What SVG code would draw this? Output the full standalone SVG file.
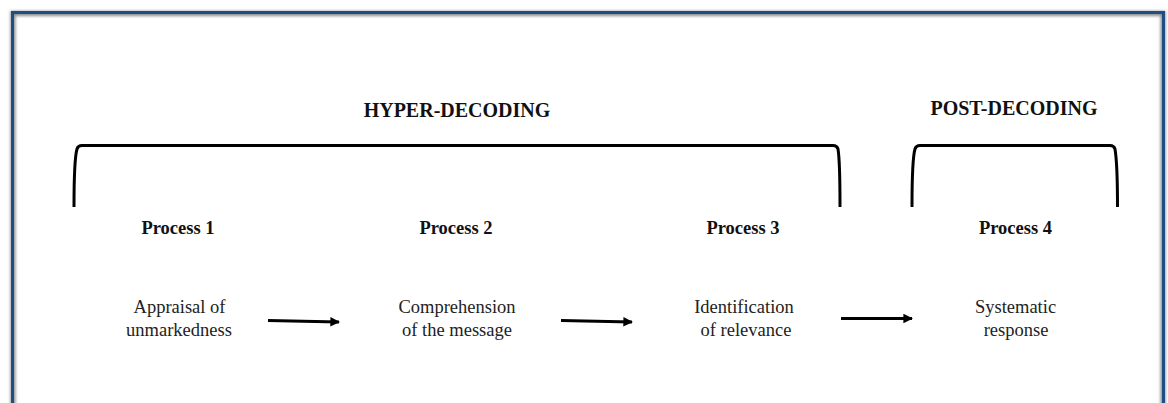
<svg xmlns="http://www.w3.org/2000/svg" width="1168" height="403" viewBox="0 0 1168 403">
  <defs>
    <filter id="soft" x="-5%" y="-5%" width="110%" height="110%">
      <feGaussianBlur stdDeviation="1.6"/>
    </filter>
    <marker id="head" viewBox="0 0 10 10" refX="9" refY="5" markerWidth="3.2" markerHeight="3.2" orient="auto" markerUnits="strokeWidth">
      <path d="M0,0 L10,5 L0,10 Z" fill="#000"/>
    </marker>
    <style>
      .heading { font-family: "Liberation Serif", "Times New Roman", serif; font-weight: bold; font-size: 20px; fill: #111; text-anchor: middle; }
      .title { font-family: "Liberation Serif", "Times New Roman", serif; font-weight: bold; font-size: 18.5px; fill: #111; text-anchor: middle; }
      .body { font-family: "Liberation Serif", "Times New Roman", serif; font-size: 18.5px; fill: #222; text-anchor: middle; }
      .bracket { fill: none; stroke: #000; stroke-width: 3; stroke-linecap: butt; stroke-linejoin: round; }
      .arrow { fill: none; stroke: #000; stroke-width: 3; marker-end: url(#head); }
    </style>
  </defs>

  <rect width="1168" height="403" fill="#fff"/>

  <!-- frame with soft shadow -->
  <g id="frame">
    <rect x="13" y="13.5" width="1150" height="420" fill="none" stroke="#8c8c8c" stroke-width="5" filter="url(#soft)"/>
    <rect x="12.5" y="12.5" width="1151" height="420" fill="none" stroke="#1f4e84" stroke-width="3"/>
  </g>

  <!-- phase headings and braces -->
  <g id="hyper-decoding">
    <text class="heading" x="457" y="117">HYPER-DECODING</text>
    <path class="bracket" d="M74,207 C74,178 75,156 77,149 Q78,145.5 82,145.5 L833,145.5 Q837,145.5 838,149 C839.5,158 840,180 840,207"/>
  </g>
  <g id="post-decoding">
    <text class="heading" x="1014" y="115">POST-DECODING</text>
    <path class="bracket" d="M912,207 C912,178 913,156 915,149 Q916,145.5 920,145.5 L1110,145.5 Q1114,145.5 1115,149 C1116.5,158 1117.5,180 1117.5,207"/>
  </g>

  <!-- processes -->
  <g id="process-1">
    <text class="title" x="178" y="234">Process 1</text>
    <text class="body" x="179.5" y="313">Appraisal of</text>
    <text class="body" x="179" y="336">unmarkedness</text>
  </g>
  <g id="process-2">
    <text class="title" x="456" y="234">Process 2</text>
    <text class="body" x="457" y="313">Comprehension</text>
    <text class="body" x="457" y="336">of the message</text>
  </g>
  <g id="process-3">
    <text class="title" x="743" y="234">Process 3</text>
    <text class="body" x="744" y="313">Identification</text>
    <text class="body" x="746" y="336">of relevance</text>
  </g>
  <g id="process-4">
    <text class="title" x="1015.5" y="234">Process 4</text>
    <text class="body" x="1015.5" y="313">Systematic</text>
    <text class="body" x="1016" y="336">response</text>
  </g>

  <!-- connectors -->
  <g id="connectors">
    <line class="arrow" x1="268" y1="320.5" x2="339" y2="322"/>
    <line class="arrow" x1="561" y1="320.5" x2="632" y2="322"/>
    <line class="arrow" x1="841" y1="318.5" x2="912" y2="318.5"/>
  </g>
</svg>
